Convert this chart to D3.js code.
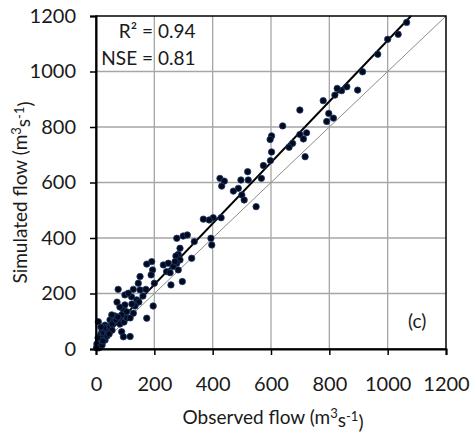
<!DOCTYPE html>
<html>
<head>
<meta charset="utf-8">
<script src="https://cdn.jsdelivr.net/npm/d3@7"></script>
<style>
  body { margin: 0; background: #fff; }
  text { font-family: Lato, "Open Sans", sans-serif; fill: #1a1a1a; }
</style>
</head>
<body>
<div id="chart"></div>
<script>
// observed vs simulated flow (m3/s)
var obsFlow = [1065,1036,1000,966,914,897,860,842,827,819,779,798,814,791,699,640,722,699,711,674,
  662,717,602,597,602,598,574,567,520,522,497,425,440,431,488,471,500,508,549,429,
  402,388,368,394,397,277,299,313,337,288,282,274,288,277,328,231,248,265,242,254,
  191,194,174,189,257,296,200,196,145,128,99,122,151,171,174,94,105,128,88,65,
  48,59,8,31,88,94,117,37,76,111,140,54,42,147,161,3,7,10,14,17,
  21,24,27,14,3,2,10,21,31,38,41,34,48,55,27,17,7,24,69,75,
  55,45,82,96,106,117,134,99,82,72,123,151,282,271];
var simFlow = [1177,1134,1116,1062,999,933,945,931,939,915,895,849,832,820,861,804,779,773,757,741,
  727,693,768,755,710,679,661,615,639,609,609,615,605,587,579,569,555,537,513,473,
  473,465,468,399,375,399,407,411,387,363,341,335,321,309,327,303,309,297,279,275,
  315,285,306,267,231,243,237,155,237,215,195,188,213,215,111,141,134,129,123,119,
  105,98,98,86,62,44,45,68,215,201,177,123,80,169,191,7,18,32,43,54,
  65,47,58,22,18,4,4,14,32,47,61,72,79,90,76,79,40,29,105,115,
  68,54,90,97,112,112,155,159,151,169,162,261,285,315];

var tickValues = [0, 200, 400, 600, 800, 1000, 1200];
var trendSlope = 1.1, trendIntercept = 12;
var statLabels = ["R\u00B2 =", "NSE ="];
var statValues = ["0.94", "0.81"];
var panelLabel = "(c)";

var margin = {top: 16, right: 25, bottom: 83, left: 96},
    w = 471 - margin.left - margin.right,
    h = 432 - margin.top - margin.bottom;

var x = d3.scaleLinear().domain([0, 1200]).range([0, w]),
    y = d3.scaleLinear().domain([0, 1200]).range([h, 0]);

var svg = d3.select("#chart").append("svg")
    .attr("width", 471)
    .attr("height", 432)
  .append("g")
    .attr("transform", "translate(" + margin.left + "," + margin.top + ")");

// grid
svg.append("g").selectAll("line").data(tickValues.slice(1, -1)).enter().append("line")
    .attr("x1", function(d) { return x(d); }).attr("x2", function(d) { return x(d); })
    .attr("y1", 0).attr("y2", h)
    .style("stroke", "#a6a6a6").style("stroke-width", 1.3);
svg.append("g").selectAll("line").data(tickValues.slice(1, -1)).enter().append("line")
    .attr("y1", function(d) { return y(d); }).attr("y2", function(d) { return y(d); })
    .attr("x1", 0).attr("x2", w)
    .style("stroke", "#a6a6a6").style("stroke-width", 1.3);

// 1:1 line
svg.append("line")
    .attr("x1", x(0)).attr("y1", y(0)).attr("x2", x(1200)).attr("y2", y(1200))
    .style("stroke", "#8c8c8c").style("stroke-width", 1);

// trend line, cut where it leaves the plot
var xEnd = (1200 - trendIntercept) / trendSlope;
svg.append("line")
    .attr("x1", x(0)).attr("y1", y(trendIntercept))
    .attr("x2", x(xEnd)).attr("y2", y(1200))
    .style("stroke", "#000").style("stroke-width", 2);

// points
svg.append("g").selectAll("circle").data(obsFlow).enter().append("circle")
    .attr("cx", function(d) { return x(d); })
    .attr("cy", function(d, i) { return y(simFlow[i]); })
    .attr("r", 3.2)
    .style("fill", "#020a1c")
    .style("stroke", "#1f3a70")
    .style("stroke-width", 0.8);

// frame
svg.append("rect")
    .attr("width", w).attr("height", h)
    .style("fill", "none").style("stroke", "#000").style("stroke-width", 1.5);

var xAxis = d3.axisBottom(x).tickValues(tickValues).tickFormat(d3.format("d")).tickSize(6).tickPadding(22),
    yAxis = d3.axisLeft(y).tickValues(tickValues).tickFormat(d3.format("d")).tickSize(6).tickPadding(14);

var gx = svg.append("g").attr("transform", "translate(0," + h + ")").call(xAxis);
var gy = svg.append("g").call(yAxis);
[gx, gy].forEach(function(g) {
    g.select(".domain").style("stroke", "#000").style("stroke-width", 2);
    g.selectAll(".tick line").style("stroke", "#000").style("stroke-width", 1.5);
    g.selectAll(".tick text").style("font-size", "20px").style("font-family", "Lato").style("fill", "#1a1a1a");
});

// stats box text
statLabels.forEach(function(s, i) {
    svg.append("text")
        .attr("x", 57).attr("y", 22 + i * 27)
        .attr("text-anchor", "end")
        .style("font-size", "19px")
        .text(s);
    svg.append("text")
        .attr("x", 62).attr("y", 22 + i * 27)
        .style("font-size", "19px")
        .text(statValues[i]);
});

svg.append("text")
    .attr("x", 312).attr("y", 312)
    .style("font-size", "19px")
    .text(panelLabel);

// axis titles with superscripts
function unitTitle(sel, name) {
    sel.append("tspan").text(name + " (m");
    sel.append("tspan").attr("dy", "-0.45em").style("font-size", "13px").text("3");
    sel.append("tspan").attr("dy", "0.45em").text("s");
    sel.append("tspan").attr("dy", "-0.45em").style("font-size", "13px").text("-1");
    sel.append("tspan").attr("dy", "0.45em").text(")");
}

var xt = svg.append("text")
    .attr("x", w / 2 + 2).attr("y", h + 75)
    .attr("text-anchor", "middle")
    .style("font-size", "19px");
unitTitle(xt, "Observed flow");

var yt = svg.append("text")
    .attr("transform", "translate(-69," + (h / 2 + 10) + ") rotate(-90)")
    .attr("text-anchor", "middle")
    .style("font-size", "19px");
unitTitle(yt, "Simulated flow");
</script>
</body>
</html>
